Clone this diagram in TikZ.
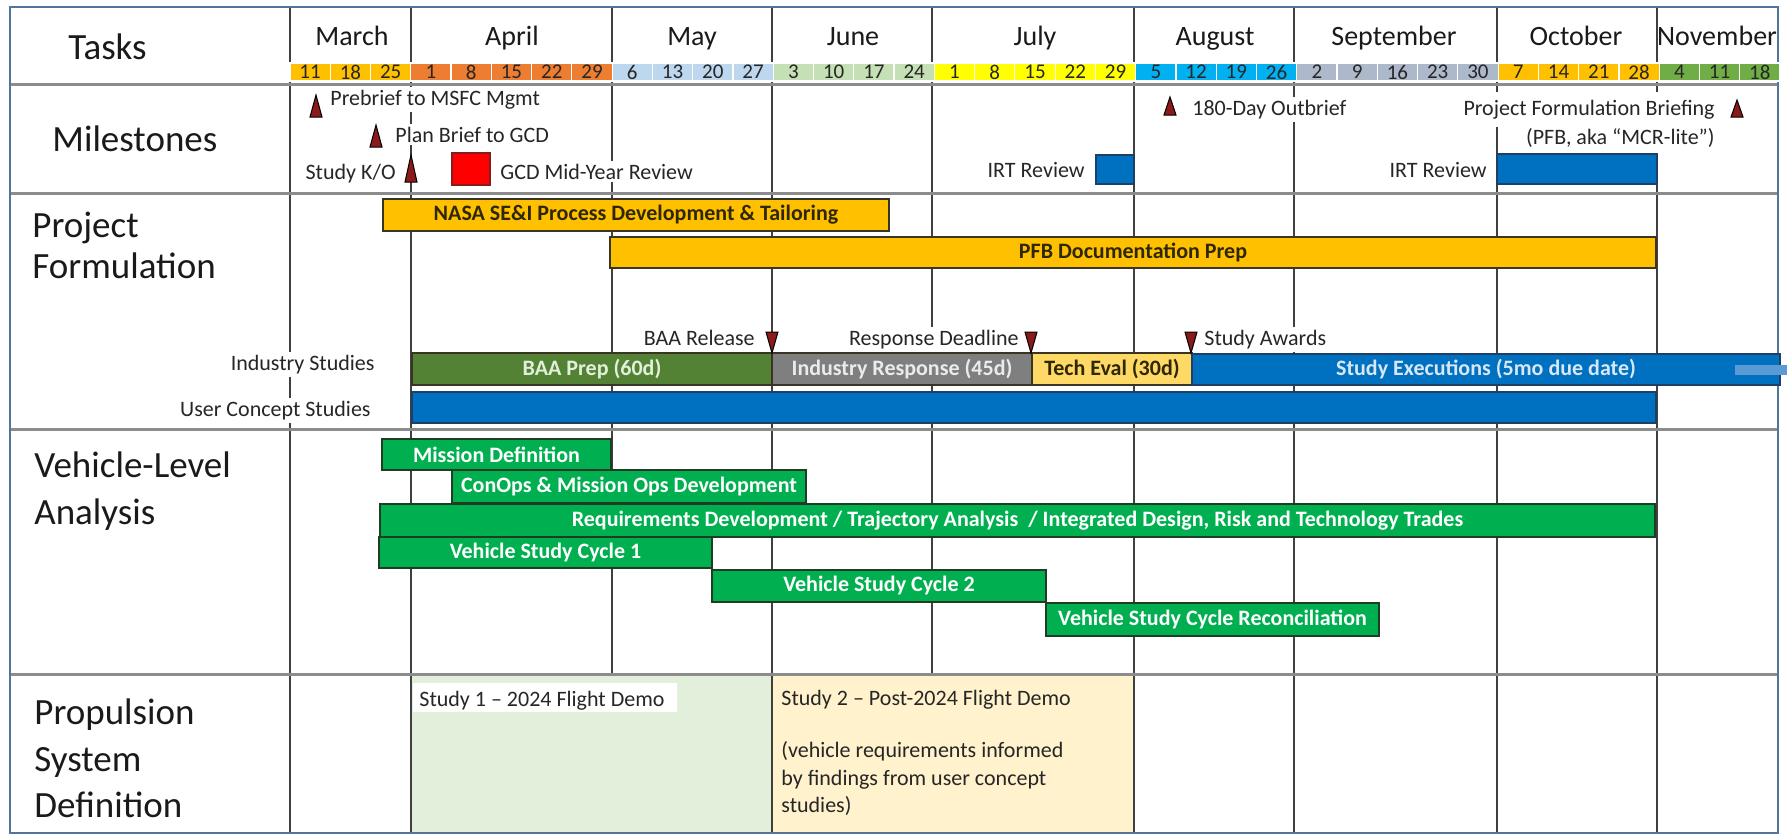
\documentclass[tikz,border=0pt]{standalone}
\usepackage{fontspec}
\setmainfont{Carlito}
\definecolor{gridc}{HTML}{404040}
\definecolor{sepc}{HTML}{8C8C8C}
\definecolor{framec}{HTML}{54759A}
\definecolor{cmar}{HTML}{FFC000}
\definecolor{capr}{HTML}{ED7D31}
\definecolor{cmay}{HTML}{BDD7EE}
\definecolor{cjun}{HTML}{C5E0B4}
\definecolor{cjul}{HTML}{FFFF00}
\definecolor{caug}{HTML}{00B0F0}
\definecolor{csep}{HTML}{ADB9CA}
\definecolor{coct}{HTML}{FFC000}
\definecolor{cnov}{HTML}{70AD47}
\definecolor{txt}{HTML}{1A1A1A}
\definecolor{mstxt}{HTML}{262626}
\definecolor{bargold}{HTML}{FFC000}
\definecolor{bardark}{HTML}{3A3522}
\definecolor{goldtxt}{HTML}{2E2700}
\definecolor{baagreen}{HTML}{548235}
\definecolor{indgray}{HTML}{7F7F7F}
\definecolor{techev}{HTML}{FFD966}
\definecolor{cblue}{HTML}{0070C0}
\definecolor{bluedraw}{HTML}{1F3F66}
\definecolor{shaft}{HTML}{5B9BD5}
\definecolor{vgreen}{HTML}{00B050}
\definecolor{vdraw}{HTML}{1E3D22}
\definecolor{study1}{HTML}{E2EFDA}
\definecolor{study2}{HTML}{FFF2CC}
\definecolor{trired}{HTML}{8B1A1A}
\definecolor{redsq}{HTML}{FF0000}
\newcommand\mstri[3]{\filldraw[tri] ({#1-6},#2) -- ({#1+6},#2) -- (#1,#3) -- cycle;}
\newcommand\daycells[3]{\foreach \d [count=\k from #1] in {#3} {\node[daycell, fill=#2] (d\k) at ({290+(\k-0.5)*40.27},72) {\d};}}
% style, x1, y1, x2, y2, name, text
\newcommand\tbar[7]{\pgfmathsetmacro\bw{(#4-#2)*0.5}\pgfmathsetmacro\bh{(#5-#3)*0.5}%
  \node[#1, minimum width=\bw pt, minimum height=\bh pt, inner sep=0pt] (#6) at ({(#2+#4)/2},{(#3+#5)/2}) {#7};}
\begin{document}
\begin{tikzpicture}[x=0.5pt,y=-0.5pt,
  grid/.style={draw=gridc, line width=0.75pt},
  sepline/.style={draw=sepc, line width=1.5pt},
  daycell/.style={minimum width=20.135pt, minimum height=9pt, inner sep=0pt, draw=white, line width=0.6pt, font=\fontsize{10.5}{12}\selectfont, text=black!85},
  month/.style={anchor=base, font=\fontsize{14}{16}\selectfont, text=txt, inner sep=0pt},
  biglabel/.style={anchor=base west, font=\fontsize{18.5}{22}\selectfont, text=txt, inner sep=0pt},
  ms/.style={font=\fontsize{11}{13}\selectfont, text=mstxt, fill=white, inner sep=1.5pt},
  plain/.style={font=\fontsize{11}{13}\selectfont, text=mstxt, inner sep=0pt},
  bar/.style={draw=bardark, line width=0.6pt, font=\bfseries\fontsize{11}{13}\selectfont},
  goldbar/.style={bar, fill=bargold, text=goldtxt},
  bluebar/.style={bar, fill=cblue, draw=bluedraw},
  vbar/.style={bar, fill=vgreen, draw=vdraw, text=white},
  tri/.style={fill=trired, draw=black, line width=0.5pt},
  plainbox/.style={draw=gridc, line width=0.75pt}
]
% canvas
\fill[white] (0,0) rectangle (1787,835);
\useasboundingbox (0,0) rectangle (1787,835);
% vertical grid lines
\foreach \x in {290,411,612,772,932,1134,1294,1497,1657}
  \draw[grid] (\x,7) -- (\x,833);
% propulsion boxes
\tbar{plainbox, fill=study1}{411}{675}{772}{833}{s1}{}
\tbar{plainbox, fill=study2}{772}{675}{1134}{833}{s2}{}
% row separators
\foreach \y in {84,193,429,674}
  \draw[sepline] (10,\y) -- (1778,\y);
% frame
\draw[draw=framec, line width=1.2pt] (10,7) rectangle (1778,833);
% day cells
\daycells{1}{cmar}{11,18,25}
\daycells{4}{capr}{1,8,15,22,29}
\daycells{9}{cmay}{6,13,20,27}
\daycells{13}{cjun}{3,10,17,24}
\daycells{17}{cjul}{1,8,15,22,29}
\daycells{22}{caug}{5,12,19,26}
\daycells{26}{csep}{2,9,16,23,30}
\daycells{31}{coct}{7,14,21,28}
\daycells{35}{cnov}{4,11,18}
% month names
\node[month] (mmar) at (352,46) {March};
\node[month] (mapr) at (512,46) {April};
\node[month] (mmay) at (692,46) {May};
\node[month] (mjun) at (853,46) {June};
\node[month] (mjul) at (1035,46) {July};
\node[month] (maug) at (1215,46) {August};
\node[month] (msep) at (1394,46) {September};
\node[month] (moct) at (1576,46) {October};
\node[month] (mnov) at (1717,46) {November};
% row labels
\node[biglabel] (ltasks) at (68,59) {Tasks};
\node[biglabel] (lmile) at (52,151) {Milestones};
\node[biglabel] (lproj) at (32,237) {Project};
\node[biglabel] (lform) at (32,278) {Formulation};
\node[biglabel] (lveh) at (34,477) {Vehicle-Level};
\node[biglabel] (lana) at (34,524) {Analysis};
\node[biglabel] (lprop) at (34,724) {Propulsion};
\node[biglabel] (lsys) at (34,771) {System};
\node[biglabel] (ldef) at (34,817) {Definition};
% milestones
\node[ms, anchor=base west] (pre) at (327,105) {Prebrief to MSFC Mgmt};
\node[ms, anchor=base west] (plan) at (392,142) {Plan Brief to GCD};
\node[ms, anchor=base east] (ko) at (399,179) {Study K/O};
\node[ms, anchor=base west] (gcd) at (497,179) {GCD Mid-Year Review};
\node[ms, anchor=base east] (irt1) at (1088,177) {IRT Review};
\node[ms, anchor=base east] (irt2) at (1490,177) {IRT Review};
\node[ms, anchor=base west] (out) at (1189,115) {180-Day Outbrief};
\node[ms, anchor=base east, inner ysep=4pt] (pfbb) at (1718,115) {Project Formulation Briefing};
\node[ms, anchor=base east, inner ysep=4pt] (pfbn) at (1718,144) {(PFB, aka “MCR-lite”)};
\mstri{316}{117}{95}
\mstri{376}{147}{125}
\mstri{411}{182}{155}
\mstri{1170}{115}{97}
\mstri{1737}{117}{100}
\tbar{fill=redsq, draw=trired, line width=0.8pt}{452}{153}{490}{185}{gcdsq}{}
\tbar{bluebar}{1096}{155}{1134}{184}{irtb1}{}
\tbar{bluebar}{1497}{154}{1657}{184}{irtb2}{}
% project formulation
\tbar{goldbar}{383}{199}{889}{231}{nasa}{NASA SE\&I Process Development \& Tailoring}
\tbar{goldbar}{610}{237}{1656}{268}{pfbprep}{PFB Documentation Prep}
\node[ms, anchor=base east] (baarel) at (758,345) {BAA Release};
\node[ms, anchor=base east] (resp) at (1022,345) {Response Deadline};
\node[ms, anchor=base west] (award) at (1201,345) {Study Awards};
\node[ms, anchor=base east] (ind) at (378,370) {Industry Studies};
\node[ms, anchor=base east] (ucs) at (374,416) {User Concept Studies};
\tbar{bar, fill=baagreen, text=study1}{412}{353}{772}{385}{baa}{BAA Prep (60d)}
\tbar{bar, fill=indgray, text=black!8}{772}{353}{1032}{385}{indr}{Industry Response (45d)}
\tbar{bar, fill=techev, text=goldtxt}{1032}{353}{1192}{385}{tech}{Tech Eval (30d)}
\tbar{bluebar, text=cmay!60!white}{1192}{354}{1780}{385}{exec}{Study Executions (5mo due date)}
\fill[shaft] (1735,365) rectangle (1787,375);
\tbar{bluebar}{412}{392}{1656}{423}{ucbar}{}
\mstri{772}{332}{353}
\mstri{1031}{332}{353}
\mstri{1191}{332}{353}
% vehicle-level analysis
\tbar{vbar}{382}{439}{611}{470}{mdef}{Mission Definition}
\tbar{vbar}{452}{470}{806}{503}{conops}{ConOps \& Mission Ops Development}
\tbar{vbar}{380}{504}{1655}{537}{req}{Requirements Development / Trajectory Analysis \ / Integrated Design, Risk and Technology Trades}
\tbar{vbar}{379}{537}{712}{568}{cyc1}{Vehicle Study Cycle 1}
\tbar{vbar}{712}{570}{1046}{602}{cyc2}{Vehicle Study Cycle 2}
\tbar{vbar}{1046}{603}{1379}{636}{recon}{Vehicle Study Cycle Reconciliation}
% propulsion
\tbar{fill=white}{413}{683}{677}{712}{s1lab}{}
\node[plain, anchor=base west] (s1txt) at (419,706) {Study 1 – 2024 Flight Demo};
\node[plain, anchor=base west] (s2txt) at (781,705) {Study 2 – Post-2024 Flight Demo};
\node[plain, anchor=base west] (s2a) at (781,757) {(vehicle requirements informed};
\node[plain, anchor=base west] (s2b) at (781,785) {by findings from user concept};
\node[plain, anchor=base west] (s2c) at (781,812) {studies)};
\end{tikzpicture}
\end{document}
